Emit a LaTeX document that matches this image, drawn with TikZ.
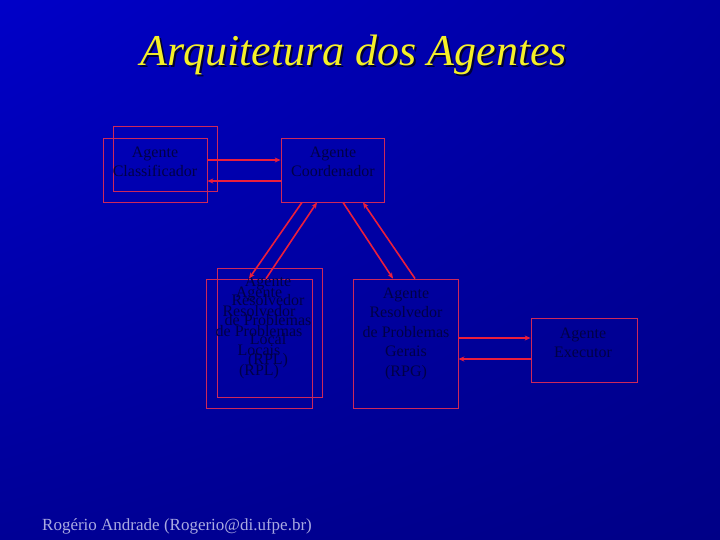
\documentclass[tikz,border=0pt]{standalone}
\usepackage{fontspec}
\setmainfont{Liberation Serif}
\usetikzlibrary{arrows.meta,calc,shadings}
\definecolor{bgA}{RGB}{0,0,200}
\definecolor{bgB}{RGB}{0,0,160}
\definecolor{bgC}{RGB}{0,0,150}
\definecolor{bgD}{RGB}{0,0,135}
\definecolor{boxred}{RGB}{205,40,90}
\definecolor{arrred}{RGB}{235,30,60}
\definecolor{txtdark}{RGB}{0,0,70}
\definecolor{titleyel}{RGB}{245,240,40}
\definecolor{footcol}{RGB}{170,170,225}
\tikzset{
  agbox/.style={draw=boxred, line width=0.8pt, rectangle, inner sep=0pt},
  agtext/.style={text=txtdark, align=center, font=\fontsize{16}{19.5}\selectfont, inner sep=0pt},
  arr/.style={draw=arrred, line width=1.6pt, -{Stealth[length=6pt,width=5pt]}},
}
\begin{document}
\begin{tikzpicture}[x=1pt,y=-1pt]
\useasboundingbox (0,0) rectangle (720,540);
\shade[upper left=bgA, upper right=bgB, lower left=bgC, lower right=bgD] (0,0) rectangle (720,540);

% title
\node[anchor=base, text=black!80!blue, font=\fontsize{44}{44}\itshape\selectfont] (titleS) at (356,68) {Arquitetura dos Agentes};
\node[anchor=base, text=titleyel, font=\fontsize{44}{44}\itshape\selectfont] (title) at (354,66) {Arquitetura dos Agentes};

% boxes
\node[agbox, minimum width=104pt, minimum height=65pt] (clsB) at (165,158.5) {};
\node[agbox, minimum width=104pt, minimum height=64pt] (clsF) at (155,170) {};
\node[agbox, minimum width=103pt, minimum height=64pt] (coord) at (332.5,170) {};
\node[agbox, minimum width=105pt, minimum height=129pt] (rplB) at (269.5,332.5) {};
\node[agbox, minimum width=106pt, minimum height=129pt] (rplF) at (259,343.5) {};
\node[agbox, minimum width=105pt, minimum height=129pt] (rpg) at (405.5,343.5) {};
\node[agbox, minimum width=106pt, minimum height=64pt] (exe) at (584,350) {};

% texts
\node[agtext] (clsT) at (155,162) {Agente\\Classificador};
\node[agtext] (coordT) at (333,162) {Agente\\Coordenador};
\node[agtext] (rplBT) at (268,321.5) {Agente\\Resolvedor\\de Problemas\\Local\\(RPL)};
\node[agtext] (rplFT) at (259,332.5) {Agente\\Resolvedor\\de Problemas\\Locais\\(RPL)};
\node[agtext] (rpgT) at (406,333.5) {Agente\\Resolvedor\\de Problemas\\Gerais\\(RPG)};
\node[agtext] (exeT) at (583,343) {Agente\\Executor};

% connectors
\draw[arr] ([yshift=10pt]clsF.east) -- ([yshift=10pt]clsF.east -| coord.west);
\draw[arr] ([yshift=-11pt]clsF.east -| coord.west) -- ([yshift=-11pt]clsF.east);
\draw[arr] ([xshift=-30.5pt]coord.south) -- ([xshift=-10pt]rplF.north);
\draw[arr] ([xshift=7pt]rplF.north) -- ([xshift=-15.5pt]coord.south);
\draw[arr] ([xshift=10.5pt]coord.south) -- ([xshift=-12.5pt]rpg.north);
\draw[arr] ([xshift=9.5pt]rpg.north) -- ([xshift=30.5pt]coord.south);
\draw[arr] ([yshift=5.5pt]rpg.east) -- ([yshift=5.5pt]rpg.east -| exe.west);
\draw[arr] ([yshift=-15.5pt]rpg.east -| exe.west) -- ([yshift=-15.5pt]rpg.east);

% footer
\node[anchor=base west, text=footcol, inner sep=0pt, font=\fontsize{17}{18}\selectfont] (foot) at (42,530) {Rogério Andrade (Rogerio@di.ufpe.br)};
\end{tikzpicture}
\end{document}
